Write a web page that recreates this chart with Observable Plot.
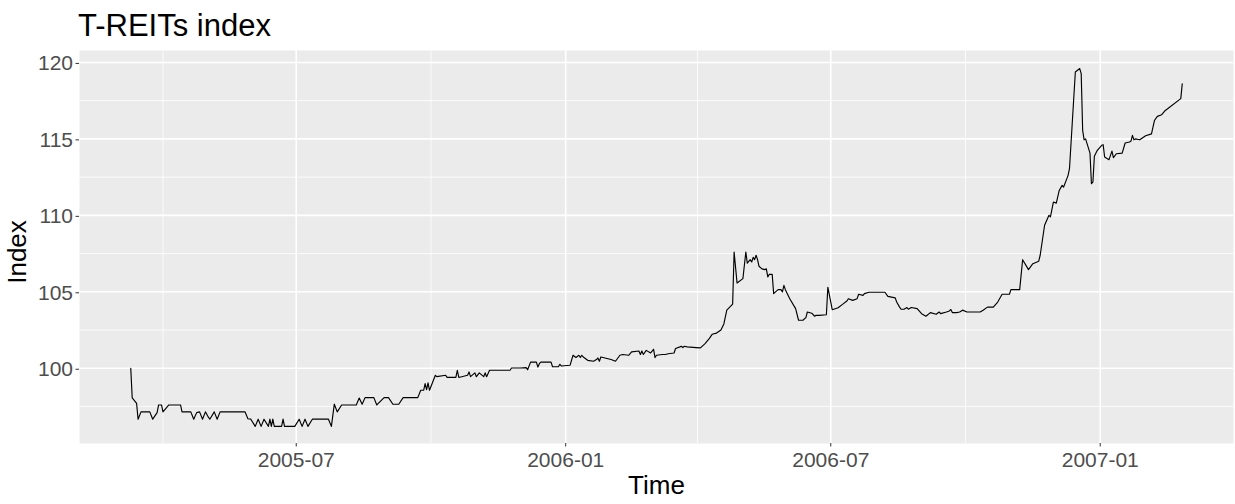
<!DOCTYPE html>
<html>
<head>
<meta charset="utf-8">
<script src="https://cdn.jsdelivr.net/npm/d3@7"></script>
<script src="https://cdn.jsdelivr.net/npm/@observablehq/plot@0.6"></script>
<style>
  html, body { margin: 0; padding: 0; background: #ffffff; }
  body { width: 1235px; height: 504px; overflow: hidden; font-family: "Liberation Sans", Arial, sans-serif; }
  #title { height: 44px; box-sizing: border-box; padding-top: 11px; padding-left: 78px;
           font-size: 31px; line-height: 30px; color: #000; white-space: nowrap; }
  #chart svg { display: block; }
</style>
</head>
<body>
<div id="title">T-REITs index</div>
<div id="chart"></div>
<script>
const dates = [
"2005-03-10","2005-03-11","2005-03-14","2005-03-15","2005-03-17","2005-03-23","2005-03-25","2005-03-28","2005-03-29","2005-03-31",
"2005-04-01","2005-04-05","2005-04-13","2005-04-14","2005-04-20","2005-04-22","2005-04-24","2005-04-26","2005-04-28","2005-04-30",
"2005-05-02","2005-05-03","2005-05-06","2005-05-08","2005-05-10","2005-05-27","2005-05-29","2005-05-31","2005-06-03","2005-06-05",
"2005-06-07","2005-06-09","2005-06-12","2005-06-13","2005-06-14","2005-06-15","2005-06-16","2005-06-21","2005-06-22","2005-06-23",
"2005-06-30","2005-07-03","2005-07-05","2005-07-07","2005-07-09","2005-07-12","2005-07-17","2005-07-23","2005-07-25","2005-07-27",
"2005-07-29","2005-08-01","2005-08-11","2005-08-13","2005-08-15","2005-08-17","2005-08-23","2005-08-25","2005-08-30","2005-09-02",
"2005-09-05","2005-09-09","2005-09-12","2005-09-22","2005-09-24","2005-09-26","2005-09-27","2005-09-28","2005-09-29","2005-09-30",
"2005-10-04","2005-10-05","2005-10-11","2005-10-12","2005-10-18","2005-10-19","2005-10-20","2005-10-26","2005-10-27","2005-10-28",
"2005-10-31","2005-11-01","2005-11-03","2005-11-06","2005-11-07","2005-11-08","2005-11-10","2005-11-24","2005-11-25","2005-12-01",
"2005-12-05","2005-12-06","2005-12-08","2005-12-12","2005-12-13","2005-12-14","2005-12-15","2005-12-22","2005-12-23","2005-12-27",
"2005-12-28","2005-12-29","2006-01-04","2006-01-06","2006-01-08","2006-01-10","2006-01-11","2006-01-12","2006-01-13","2006-01-16",
"2006-01-20","2006-01-22","2006-01-23","2006-01-24","2006-01-25","2006-02-01","2006-02-04","2006-02-07","2006-02-09","2006-02-13",
"2006-02-15","2006-02-20","2006-02-21","2006-02-22","2006-02-23","2006-02-25","2006-02-28","2006-03-02","2006-03-03","2006-03-04",
"2006-03-08","2006-03-10","2006-03-12","2006-03-16","2006-03-17","2006-03-20","2006-03-21","2006-03-22","2006-03-23","2006-03-25",
"2006-03-31","2006-04-03","2006-04-06","2006-04-09","2006-04-11","2006-04-14","2006-04-17","2006-04-19","2006-04-21","2006-04-24",
"2006-04-25","2006-04-26","2006-04-28","2006-05-02","2006-05-04","2006-05-05","2006-05-07","2006-05-08","2006-05-09","2006-05-10",
"2006-05-11","2006-05-12","2006-05-13","2006-05-15","2006-05-17","2006-05-18","2006-05-19","2006-05-20","2006-05-22","2006-05-23",
"2006-05-26","2006-05-28","2006-05-29","2006-05-30","2006-05-31","2006-06-03","2006-06-07","2006-06-09","2006-06-12","2006-06-14",
"2006-06-15","2006-06-18","2006-06-20","2006-06-21","2006-06-23","2006-06-28","2006-06-29","2006-07-02","2006-07-06","2006-07-09",
"2006-07-12","2006-07-13","2006-07-16","2006-07-19","2006-07-20","2006-07-23","2006-07-24","2006-07-27","2006-08-07","2006-08-09",
"2006-08-14","2006-08-15","2006-08-17","2006-08-18","2006-08-20","2006-08-22","2006-08-23","2006-08-25","2006-08-29","2006-09-01",
"2006-09-04","2006-09-07","2006-09-11","2006-09-13","2006-09-14","2006-09-18","2006-09-20","2006-09-21","2006-09-22","2006-09-25",
"2006-09-27","2006-09-29","2006-10-02","2006-10-11","2006-10-13","2006-10-16","2006-10-20","2006-10-23","2006-10-26","2006-10-31",
"2006-11-01","2006-11-07","2006-11-09","2006-11-13","2006-11-16","2006-11-20","2006-11-21","2006-11-24","2006-11-27","2006-11-28",
"2006-11-30","2006-12-02","2006-12-04","2006-12-06","2006-12-07","2006-12-10","2006-12-11","2006-12-15","2006-12-18","2006-12-19",
"2006-12-20","2006-12-21","2006-12-22","2006-12-25","2006-12-26","2006-12-27","2006-12-28","2006-12-30","2007-01-02","2007-01-03",
"2007-01-04","2007-01-07","2007-01-09","2007-01-10","2007-01-12","2007-01-16","2007-01-18","2007-01-21","2007-01-22","2007-01-23",
"2007-01-24","2007-01-25","2007-01-28","2007-01-30","2007-02-01","2007-02-05","2007-02-07","2007-02-09","2007-02-12","2007-02-14",
"2007-02-25","2007-02-26"
];
const values = [
100.0,98.06,97.7,96.67,97.15,97.15,96.67,97.1,97.6,97.6,
97.15,97.6,97.6,97.15,97.15,96.67,97.1,97.15,96.67,97.15,
96.8,96.67,97.15,96.67,97.15,97.15,96.7,96.67,96.2,96.67,
96.2,96.67,96.2,96.67,96.2,96.67,96.2,96.2,96.67,96.2,
96.2,96.67,96.2,96.67,96.2,96.67,96.67,96.67,96.2,97.65,
97.15,97.6,97.6,98.05,97.65,98.08,98.08,97.6,98.08,98.08,
97.65,97.65,98.08,98.08,98.56,98.56,99.0,98.6,99.05,98.56,
99.54,99.45,99.54,99.4,99.4,99.87,99.4,99.54,99.76,99.45,
99.7,99.45,99.7,99.45,99.7,99.45,99.87,99.87,100.02,100.02,
100.04,99.9,100.4,100.4,100.08,100.3,100.4,100.4,100.1,100.1,
100.26,100.15,100.2,100.85,100.7,100.85,100.7,100.85,100.74,100.52,
100.46,100.57,100.67,100.46,100.74,100.57,100.46,100.85,100.9,100.85,
101.07,101.13,100.9,101.13,100.9,101.17,101.0,101.24,100.7,100.85,
100.9,100.9,100.95,101.0,101.29,101.4,101.44,101.35,101.44,101.4,
101.35,101.33,101.6,101.94,102.22,102.3,102.5,102.9,103.8,104.1,
104.2,107.6,105.58,105.86,107.6,106.88,107.1,106.95,107.25,107.1,
107.39,107.1,106.67,106.5,106.45,106.5,105.97,106.14,106.14,104.88,
105.14,105.14,105.0,105.42,105.14,104.55,103.9,103.14,103.14,103.31,
103.68,103.6,103.4,103.46,103.46,103.5,105.3,103.83,103.96,104.18,
104.4,104.55,104.44,104.55,104.84,104.77,104.88,104.97,104.97,104.7,
104.6,104.33,104.0,103.86,103.86,103.97,103.86,103.97,103.9,103.57,
103.4,103.64,103.53,103.68,103.57,103.68,103.75,103.84,103.64,103.64,
103.68,103.8,103.68,103.68,103.8,104.0,104.0,104.33,104.84,104.84,
105.14,105.14,107.1,106.45,106.84,107.0,107.39,109.35,110.0,109.9,
110.87,110.8,111.63,111.96,111.85,112.6,113.05,119.37,119.6,119.27,
115.56,114.94,115.0,114.07,112.07,112.18,113.86,114.25,114.58,114.62,
113.82,113.64,114.2,113.77,114.03,114.07,114.73,114.8,114.86,115.23,
114.94,115.0,114.94,115.07,115.2,115.33,116.2,116.47,116.58,116.82,
117.63,118.6
];
const xTickDates = ["2005-07-01","2006-01-01","2006-07-01","2007-01-01"];
const xMinorDates = ["2005-04-01","2005-10-01","2006-04-01","2006-10-01"];
const yTicks = [100,105,110,115,120];
const yMinor = [97.5,102.5,107.5,112.5,117.5];
const xDomain = ["2005-02-03","2007-04-02"];
const yDomain = [95.08,120.78];
const xTitle = "Time";
const yTitle = "Index";

const parse = d3.utcParse("%Y-%m-%d");
const data = dates.map((d, i) => ({date: parse(d), value: values[i]}));
const xTicks = xTickDates.map(parse);
const xMinor = xMinorDates.map(parse);

const chart = Plot.plot({
  width: 1235,
  height: 460,
  marginTop: 6,
  marginBottom: 61,
  marginLeft: 79,
  marginRight: 2,
  style: {fontFamily: "Liberation Sans, Arial, sans-serif", background: "transparent", overflow: "visible"},
  x: {type: "utc", domain: xDomain.map(parse)},
  y: {domain: yDomain},
  marks: [
    Plot.frame({fill: "#EBEBEB", stroke: "none"}),
    Plot.gridY(yMinor, {stroke: "#ffffff", strokeOpacity: 1, strokeWidth: 0.8}),
    Plot.gridX(xMinor, {stroke: "#ffffff", strokeOpacity: 1, strokeWidth: 0.8}),
    Plot.gridY(yTicks, {stroke: "#ffffff", strokeOpacity: 1, strokeWidth: 1.6}),
    Plot.gridX(xTicks, {stroke: "#ffffff", strokeOpacity: 1, strokeWidth: 1.6}),
    Plot.line(data, {x: "date", y: "value", stroke: "#000000", strokeWidth: 1.15}),
    Plot.axisY(yTicks, {label: null, tickSize: 3.5, tickPadding: 3, fontSize: 21, stroke: "#333333", fill: "#4d4d4d", dy: 1}),
    Plot.axisX(xTicks, {label: null, tickSize: 3.5, tickPadding: 5.5, fontSize: 21, stroke: "#333333", fill: "#4d4d4d", tickFormat: d3.utcFormat("%Y-%m")}),
    Plot.text([xTitle], {text: d => d, frameAnchor: "bottom", dy: 50, fontSize: 26, fill: "#000000"}),
    Plot.text([yTitle], {text: d => d, frameAnchor: "left", textAnchor: "middle", rotate: -90, dx: -62, dy: 5, fontSize: 26, fill: "#000000"})
  ]
});
document.getElementById("chart").appendChild(chart);
</script>
</body>
</html>
